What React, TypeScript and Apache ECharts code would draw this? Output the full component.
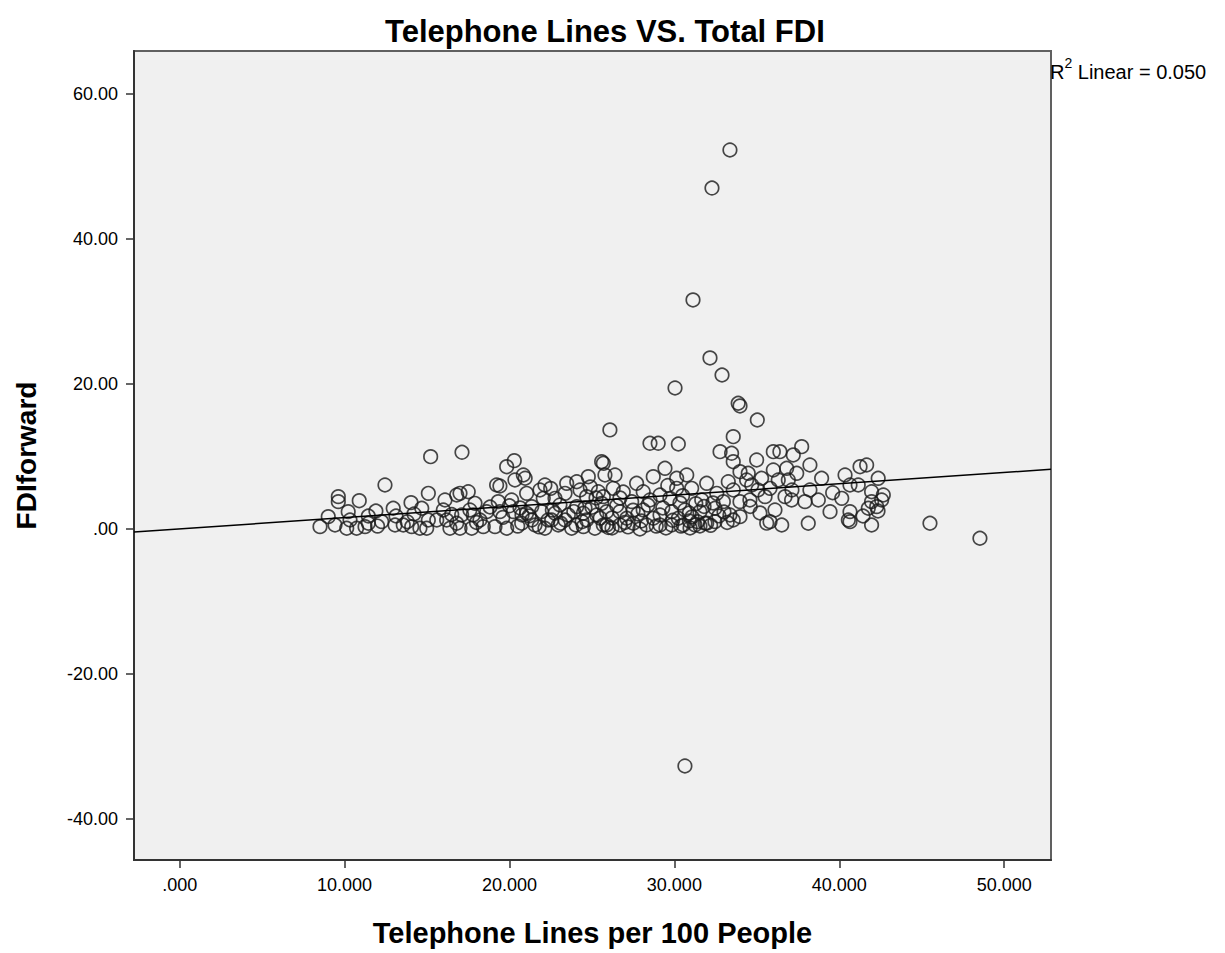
import React, { useEffect, useRef } from "react";
import * as echarts from "echarts";

// Telephone lines per 100 people (x) vs FDIforward (y)
const telephoneLines: number[] = [
  33.37, 32.28, 31.13, 32.16, 32.89, 30.04, 33.87, 33.98, 35.03, 30.64,
  45.50, 48.53, 17.12, 15.22, 12.45, 26.09, 28.52, 29.02, 30.24, 33.57,
  32.77, 33.47, 33.57, 36.00, 36.40, 37.72, 37.21, 34.99, 38.22, 41.26,
  41.66, 36.00, 36.81, 37.42, 34.48, 35.29, 38.93, 40.35, 42.36, 36.30,
  36.91, 34.69, 35.80, 40.65, 41.15, 41.96, 42.67, 35.50, 36.71, 34.58,
  37.11, 37.92, 38.73, 40.15, 41.96, 42.57, 36.10, 39.44, 40.65, 41.76,
  42.27, 40.55, 40.65, 35.80, 36.51, 38.12, 41.96, 33.57, 31.86, 34.38,
  33.98, 25.69, 29.43, 28.72, 30.75, 30.14, 26.40, 25.79, 27.71, 31.96,
  33.27, 26.29, 28.11, 29.13, 31.05, 30.14, 32.57, 33.57, 25.69, 27.41,
  29.73, 31.66, 32.97, 33.98, 25.89, 26.70, 28.11, 29.84, 30.64, 31.55,
  32.46, 33.37, 33.98, 25.89, 26.70, 27.51, 28.32, 29.13, 29.84, 30.54,
  31.25, 31.96, 32.46, 27.11, 28.72, 30.24, 20.29, 19.83, 20.84, 20.33,
  19.42, 22.15, 21.04, 25.59, 24.78, 23.47, 24.08, 17.50, 17.00, 17.91,
  19.32, 20.13, 21.35, 22.05, 22.76, 23.37, 24.68, 25.39, 25.59, 24.08,
  17.10, 17.80, 18.62, 19.42, 20.23, 21.04, 21.95, 22.76, 23.57, 24.48,
  25.29, 17.00, 17.71, 18.41, 19.12, 19.83, 20.74, 21.55, 22.15, 22.96,
  23.77, 24.48, 25.18, 25.69, 21.35, 22.56, 23.37, 18.21, 24.68, 9.62,
  9.62, 10.89, 15.08, 14.03, 16.09, 16.80, 12.95, 9.01, 10.22, 11.44,
  14.68, 15.99, 8.51, 9.42, 10.13, 10.73, 11.24, 12.25, 13.06, 13.56,
  14.07, 14.57, 15.08, 15.59, 16.19, 16.80, 14.98, 16.39, 10.33, 11.44,
  26.22, 27.19, 27.91, 29.49, 30.95, 31.55, 26.22, 27.79, 29.13, 31.07,
  24.58, 23.06, 20.64, 18.82, 24.03, 22.34, 20.76, 25.25, 26.70, 28.52,
  30.34, 32.34, 33.01, 35.19, 35.07, 37.13, 38.22, 42.35, 41.44, 21.85,
  24.28, 17.60, 13.12, 14.21, 11.90, 19.22, 20.95, 30.91,
  19.60, 20.50, 21.20, 21.80, 22.60, 23.10, 23.90, 24.40, 25.00, 25.50,
  26.00, 26.50, 27.00, 27.50, 28.00, 28.40, 28.90, 29.30, 29.90, 30.40,
  30.90, 31.40, 31.80, 32.20, 32.70, 33.20, 24.90, 26.90, 29.60, 22.50,
  20.00, 18.00, 16.50, 13.80, 12.00, 30.50, 31.30, 34.60, 35.60, 39.60,
];

const fdiForward: number[] = [
  52.28, 47.03, 31.59, 23.59, 21.24, 19.45, 17.34, 16.97, 15.03, -32.69,
  0.79, -1.28, 10.58, 9.97, 6.07, 13.66, 11.82, 11.82, 11.72, 12.73,
  10.66, 10.44, 9.28, 10.66, 10.66, 11.35, 10.21, 9.52, 8.83, 8.59,
  8.83, 8.14, 8.37, 7.68, 7.68, 6.99, 6.99, 7.45, 6.99, 6.76,
  6.76, 6.07, 5.61, 6.07, 6.07, 5.14, 4.69, 4.46, 4.46, 4.00,
  4.00, 3.77, 4.00, 4.23, 3.77, 4.00, 2.62, 2.39, 2.39, 2.86,
  3.08, 1.24, 1.01, 1.01, 0.55, 0.79, 0.55, 1.24, 0.79, 6.76,
  7.90, 9.06, 8.37, 7.21, 7.45, 6.99, 7.45, 7.45, 6.30, 6.30,
  6.52, 5.61, 5.14, 4.69, 5.61, 5.61, 4.92, 5.38, 4.46, 3.77,
  4.23, 4.00, 3.77, 3.77, 2.39, 2.39, 2.62, 2.39, 2.62, 2.39,
  2.86, 1.93, 1.70, 0.55, 0.55, 0.79, 0.55, 0.55, 0.55, 0.55,
  0.55, 0.79, 1.01, 1.48, 1.48, 1.48, 9.42, 8.59, 7.45, 6.76,
  5.93, 6.07, 4.92, 9.28, 7.21, 6.30, 6.52, 5.14, 4.92, 3.54,
  3.77, 4.00, 3.08, 4.23, 4.23, 4.92, 4.46, 5.14, 3.54, 3.08,
  1.93, 1.93, 2.39, 2.39, 2.39, 2.17, 2.39, 2.17, 1.93, 2.17,
  1.93, 0.10, 0.10, 0.32, 0.32, 0.10, 0.79, 0.55, 0.10, 0.55,
  0.10, 0.32, 0.10, 0.55, 1.24, 1.24, 1.24, 1.24, 1.24, 4.46,
  3.77, 3.90, 4.92, 3.63, 4.00, 4.69, 2.86, 1.70, 2.39, 1.79,
  2.86, 2.62, 0.32, 0.55, 0.10, 0.10, 0.32, 1.01, 0.55, 0.55,
  0.32, 0.10, 1.24, 1.24, 1.24, 0.79, 0.10, 0.10, 1.24, 0.79,
  0.14, 0.28, 0.00, 0.14, 0.14, 0.41, 1.52, 2.07, 1.93, 1.66,
  2.90, 3.31, 2.90, 3.03, 0.55, 1.24, 1.93, 4.28, 4.28, 4.00,
  3.59, 3.59, 2.34, 2.21, 5.38, 5.38, 5.38, 2.48, 1.79, 5.38,
  5.38, 2.62, 1.79, 2.07, 2.48, 6.07, 7.00, 1.10,
  1.60, 0.40, 1.80, 0.30, 2.60, 0.80, 2.40, 1.00, 3.00, 1.50,
  0.20, 3.20, 0.90, 2.60, 1.10, 3.30, 0.40, 2.90, 1.20, 0.40,
  2.20, 1.00, 3.10, 0.50, 1.80, 0.90, 5.80, 5.10, 6.00, 5.60,
  3.20, 0.90, 2.00, 1.00, 0.40, 4.60, 3.50, 3.10, 0.80, 5.00,
];

// Linear fit
const fitIntercept = 0.01;
const fitSlope = 0.1556;

const xTicks = [0, 10, 20, 30, 40, 50];
const yTicks = [-40, -20, 0, 20, 40, 60];
const xRange = [-2.77, 52.84];
const yRange = [-45.66, 65.93];

const chartTitle = "Telephone Lines VS. Total FDI";
const xTitle = "Telephone Lines per 100 People";
const yTitle = "FDIforward";

const FONT = "'Liberation Sans', Arial, Helvetica, sans-serif";

export default function App() {
  const ref = useRef<HTMLDivElement>(null);

  useEffect(() => {
    document.body.style.margin = "0";
    if (!ref.current) return;
    const chart = echarts.init(ref.current, undefined, { renderer: "svg" });

    const points = telephoneLines.map((x, i) => [x, fdiForward[i]]);
    const fitLine = [
      [xRange[0], fitIntercept + fitSlope * xRange[0]],
      [xRange[1], fitIntercept + fitSlope * xRange[1]],
    ];

    const fmtX = (v: number) => (v === 0 ? ".000" : v.toFixed(3));
    const fmtY = (v: number) => (v === 0 ? ".00" : v.toFixed(2));

    chart.setOption({
      animation: false,
      backgroundColor: "#ffffff",
      title: {
        text: chartTitle,
        left: 380,
        top: 11,
        textStyle: { fontFamily: FONT, fontSize: 31, fontWeight: "bold", color: "#000" },
      },
      grid: {
        left: 134,
        top: 51,
        width: 917,
        height: 809,
        show: true,
        backgroundColor: "#f0f0f0",
        borderColor: "#606060",
        borderWidth: 2,
      },
      xAxis: {
        type: "value",
        min: xRange[0],
        max: xRange[1],
        name: xTitle,
        nameLocation: "middle",
        nameGap: 58,
        nameTextStyle: { fontFamily: FONT, fontSize: 29, fontWeight: "bold", color: "#000" },
        axisLine: { show: true, onZero: false, lineStyle: { color: "#333", width: 2 } },
        axisTick: { show: true, inside: false, length: 8, customValues: xTicks, lineStyle: { color: "#333", width: 1.5 } },
        axisLabel: {
          customValues: xTicks,
          formatter: fmtX,
          margin: 16,
          fontFamily: FONT,
          fontSize: 18,
          color: "#000",
        },
        splitLine: { show: false },
      },
      yAxis: {
        type: "value",
        min: yRange[0],
        max: yRange[1],
        name: yTitle,
        nameLocation: "middle",
        nameGap: 94,
        nameRotate: 90,
        nameTextStyle: { fontFamily: FONT, fontSize: 28, fontWeight: "bold", color: "#000" },
        axisLine: { show: true, onZero: false, lineStyle: { color: "#333", width: 2 } },
        axisTick: { show: true, inside: false, length: 8, customValues: yTicks, lineStyle: { color: "#333", width: 1.5 } },
        axisLabel: {
          customValues: yTicks,
          formatter: fmtY,
          margin: 16,
          fontFamily: FONT,
          fontSize: 18,
          color: "#000",
        },
        splitLine: { show: false },
      },
      graphic: [
        {
          type: "text",
          left: 1050,
          top: 56,
          style: {
            text: "{r|R}{s|2}{r| Linear = 0.050}",
            fontFamily: FONT,
            fill: "#000",
            rich: {
              r: { fontFamily: FONT, fontSize: 20, fill: "#000", lineHeight: 26, verticalAlign: "bottom" },
              s: { fontFamily: FONT, fontSize: 14, fill: "#000", lineHeight: 26, verticalAlign: "top", padding: [0, 0, 8, 0] },
            },
          },
        },
      ],
      series: [
        {
          type: "line",
          data: fitLine,
          symbol: "none",
          lineStyle: { color: "#000", width: 1.5 },
          silent: true,
          z: 3,
        },
        {
          type: "scatter",
          data: points,
          symbol: "circle",
          symbolSize: 13.5,
          itemStyle: { color: "rgba(0,0,0,0)", borderColor: "#1a1a1a", borderWidth: 1.7 },
          z: 2,
        },
      ],
    });

    return () => chart.dispose();
  }, []);

  return (
    <div
      ref={ref}
      style={{ position: "absolute", left: 0, top: 0, width: 1225, height: 953 }}
    />
  );
}
